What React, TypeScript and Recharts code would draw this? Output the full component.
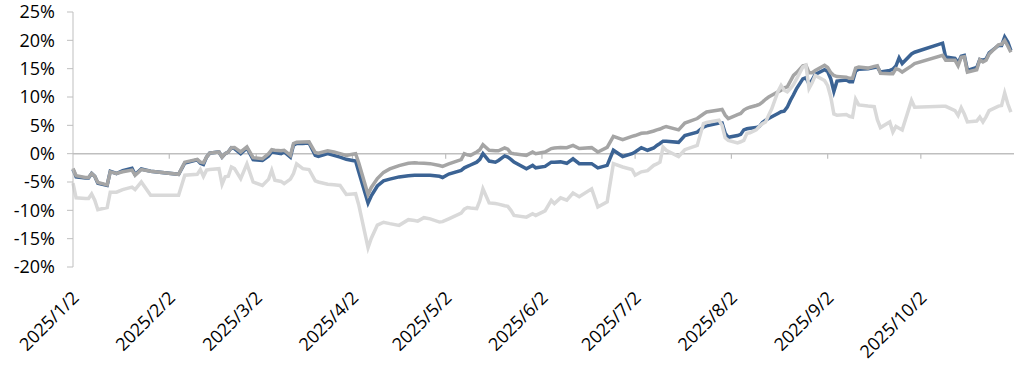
import { LineChart, Line, XAxis, YAxis, ReferenceLine } from "recharts";

// trading dates (2025)
const dates = [
  "1/2", "1/3", "1/6", "1/7", "1/8", "1/9", "1/10", "1/13", "1/14", "1/16",
  "1/18", "1/21", "1/22", "1/24", "1/27", "2/5", "2/7", "2/11", "2/12", "2/13",
  "2/14", "2/15", "2/18", "2/19", "2/20", "2/21", "2/22", "2/23", "2/25", "2/27",
  "3/1", "3/4", "3/6", "3/7", "3/8", "3/10", "3/11", "3/13", "3/14", "3/15",
  "3/17", "3/19", "3/21", "3/22", "3/25", "3/27", "3/29", "3/31", "4/2", "4/3",
  "4/4", "4/7", "4/8", "4/10", "4/12", "4/14", "4/17", "4/20", "4/22", "4/23",
  "4/25", "4/27", "4/30", "5/1", "5/3", "5/7", "5/8", "5/9", "5/10", "5/12",
  "5/13", "5/14", "5/16", "5/18", "5/19", "5/21", "5/22", "5/23", "5/24", "5/28",
  "5/30", "5/31", "6/3", "6/5", "6/6", "6/8", "6/10", "6/12", "6/14", "6/18",
  "6/20", "6/23", "6/25", "6/28", "7/1", "7/2", "7/4", "7/6", "7/8", "7/9",
  "7/10", "7/11", "7/12", "7/16", "7/18", "7/22", "7/24", "7/25", "7/29", "7/30",
  "7/31", "8/1", "8/4", "8/5", "8/6", "8/7", "8/8", "8/10", "8/11", "8/12",
  "8/13", "8/14", "8/15", "8/17", "8/18", "8/19", "8/20", "8/21", "8/22", "8/23",
  "8/25", "8/26", "8/27", "8/28", "8/29", "9/1", "9/2", "9/3", "9/4", "9/5",
  "9/8", "9/9", "9/10", "9/11", "9/12", "9/15", "9/17", "9/18", "9/19", "9/22",
  "9/23", "9/24", "9/25", "9/26", "9/29", "9/30", "10/9", "10/10", "10/13", "10/14",
  "10/15", "10/16", "10/17", "10/20", "10/21", "10/22", "10/23", "10/24", "10/27", "10/28",
  "10/29", "10/30", "10/31",
];

// dark blue series (%)
const seriesA = [
  -2.8, -4.1, -4.3, -4.3, -3.5, -4.0, -5.2, -5.6, -3.1, -3.5,
  -3.0, -2.6, -3.7, -2.7, -3.1, -3.65, -1.65, -1.1, -1.7, -1.9,
  -0.6, 0.1, 0.3, -0.6, 0.0, 0.3, 1.05, 0.9, 0.0, 1.0,
  -1.06, -1.2, -0.4, 0.3, 0.2, 0.0, 0.3, -0.6, 1.5, 1.8,
  1.8, 1.87, -0.3, -0.5, 0.0, -0.3, -0.6, -1.0, -1.2, -1.3,
  -3.2, -8.7, -7.5, -5.7, -4.8, -4.5, -4.1, -3.9, -3.8, -3.8,
  -3.8, -3.8, -4.0, -4.2, -3.6, -2.95, -2.5, -2.25, -2.0, -1.5,
  -1.0, 0.0, -1.3, -1.5, -1.2, -0.4, -0.6, -1.0, -1.5, -2.65,
  -2.06, -2.5, -2.25, -1.5, -1.5, -1.45, -1.7, -0.9, -1.76, -1.76,
  -2.5, -2.06, 0.6, -0.5, 0.0, 0.3, 1.06, 0.6, 1.0, 1.46,
  1.8, 2.2, 2.2, 2.0, 3.2, 3.8, 4.7, 4.9, 5.4, 5.4,
  3.6, 2.9, 3.2, 3.4, 4.2, 4.4, 4.5, 4.6, 4.8, 5.5,
  5.9, 6.2, 6.5, 7.1, 7.4, 7.5, 8.2, 9.4, 10.4, 11.5,
  13.2, 13.4, 12.3, 13.0, 14.0, 14.8, 14.5, 13.2, 11.0, 12.8,
  13.0, 12.7, 12.7, 14.6, 14.9, 15.0, 15.2, 15.3, 14.4, 14.7,
  14.9, 15.5, 16.9, 15.9, 17.6, 17.9, 19.5, 17.05, 16.8, 16.0,
  17.2, 17.35, 14.7, 15.2, 16.6, 16.5, 16.7, 17.8, 19.1, 19.1,
  20.6, 19.7, 18.2,
];

// mid grey series (%)
const seriesB = [
  -2.6, -3.9, -4.2, -4.2, -3.5, -4.0, -5.1, -5.5, -3.2, -3.5,
  -3.2, -2.9, -3.8, -2.8, -3.1, -3.65, -1.5, -1.0, -1.5, -1.6,
  -0.6, 0.1, 0.3, -0.6, 0.0, 0.3, 1.05, 1.1, 0.3, 1.2,
  -0.7, -0.9, 0.0, 0.7, 0.6, 0.5, 0.6, -0.3, 1.8, 2.0,
  2.05, 2.1, 0.2, 0.1, 0.5, 0.3, 0.0, -0.3, -0.1, 0.0,
  -1.6, -7.2, -6.0, -4.4, -3.3, -2.7, -2.1, -1.7, -1.6, -1.65,
  -1.7, -1.76, -2.1, -2.25, -1.8, -1.06, 0.0, -0.2, -0.3, 0.3,
  0.7, 1.6, 0.6, 0.5, 0.5, 1.0, 0.8, 0.1, 0.0, -0.3,
  0.3, 0.0, 0.3, 0.9, 1.0, 1.1, 1.06, 1.46, 0.9, 1.06,
  0.3, 1.1, 3.05, 2.47, 3.05, 3.2, 3.6, 3.7, 4.0, 4.2,
  4.35, 4.6, 4.8, 4.2, 5.4, 6.2, 7.0, 7.35, 7.7, 7.8,
  6.8, 6.2, 6.9, 7.1, 7.7, 8.0, 8.2, 8.5, 8.7, 9.1,
  9.6, 10.0, 10.3, 10.9, 11.2, 11.6, 11.8, 12.8, 13.8, 14.3,
  15.5, 15.6, 14.3, 14.3, 14.7, 15.6, 15.2, 14.3, 13.8, 13.6,
  13.5, 13.3, 13.3, 15.1, 15.3, 15.1, 15.4, 15.5, 14.2, 14.1,
  14.1, 15.0, 14.8, 14.4, 15.5, 15.9, 17.35, 16.5, 16.5, 15.5,
  17.0, 17.1, 14.4, 14.8, 16.6, 16.2, 16.5, 17.6, 19.2, 19.3,
  20.0, 19.0, 17.9,
];

// light grey series (%)
const seriesC = [
  -5.2, -7.8, -7.9, -7.9, -7.1, -8.2, -9.9, -9.5, -6.8, -6.8,
  -6.35, -5.9, -6.35, -5.0, -7.35, -7.35, -3.8, -3.65, -2.8, -4.0,
  -2.9, -2.8, -2.65, -5.4, -4.1, -4.0, -2.35, -2.65, -4.4, -1.8,
  -5.0, -5.6, -4.5, -2.95, -4.7, -4.9, -5.3, -4.5, -3.5, -1.8,
  -2.65, -2.8, -4.8, -5.0, -5.4, -5.5, -5.6, -7.2, -7.1, -7.06,
  -9.0, -16.6, -15.0, -12.6, -12.1, -12.35, -12.65, -11.65, -11.8, -11.9,
  -11.3, -11.5, -12.07, -12.0, -11.5, -10.5, -9.8, -9.5, -9.6, -9.7,
  -8.3, -6.2, -8.7, -8.8, -8.9, -9.2, -9.3, -10.0, -10.9, -11.2,
  -10.6, -10.9, -10.1, -8.25, -8.8, -7.8, -8.2, -6.95, -7.6, -6.2,
  -9.4, -8.5, -1.76, -2.35, -2.8, -3.8, -3.2, -3.0, -2.06, -1.8,
  -1.5, 1.17, 0.6, -0.5, 0.7, 1.46, 5.3, 5.5, 5.9, 5.0,
  2.8, 2.35, 1.9, 2.1, 2.35, 3.6, 3.7, 4.2, 4.8, 5.3,
  5.6, 6.8, 7.9, 11.0, 12.05, 11.2, 10.9, 11.5, 12.2, 13.2,
  15.3, 15.6, 11.5, 12.5, 13.8, 12.9, 12.0, 10.0, 7.0, 6.8,
  6.9, 6.6, 6.45, 9.6, 8.6, 8.4, 8.3, 6.0, 4.6, 5.6,
  3.8, 4.8, 4.5, 4.2, 9.4, 8.2, 8.35, 8.35, 7.6, 6.75,
  8.1, 7.0, 5.6, 5.75, 6.45, 5.6, 6.5, 7.6, 8.4, 8.5,
  10.7, 8.8, 7.35,
];

const tickLabels = [
  "2025/1/2", "2025/2/2", "2025/3/2", "2025/4/2", "2025/5/2",
  "2025/6/2", "2025/7/2", "2025/8/2", "2025/9/2", "2025/10/2",
];
const yTicks = [-20, -15, -10, -5, 0, 5, 10, 15, 20, 25];

const toTime = (s: string) => {
  const [y, m, d] = s.split("/").map(Number);
  return Date.UTC(y, m - 1, d);
};

const fmtDate = (t: number) => {
  const dt = new Date(t);
  return `${dt.getUTCFullYear()}/${dt.getUTCMonth() + 1}/${dt.getUTCDate()}`;
};

const data = dates.map((d, i) => ({
  t: toTime("2025/" + d),
  a: seriesA[i],
  b: seriesB[i],
  c: seriesC[i],
}));

const xTicks = tickLabels.map(toTime);
const xDomain = [toTime("2025/1/2"), toTime("2025/11/1")];

const FONT = "'Open Sans', sans-serif";

function DateTick(props: any) {
  const { x, y, payload } = props;
  const px = x + 7;
  const py = y + 32;
  return (
    <text
      x={px}
      y={py}
      textAnchor="end"
      fontSize={18}
      fill="#000"
      fontFamily={FONT}
      transform={`rotate(-45 ${px} ${py})`}
    >
      {fmtDate(payload.value)}
    </text>
  );
}

export default function App() {
  return (
    <div style={{ position: "absolute", left: 0, top: 0, background: "#fff" }}>
      <LineChart
        width={1024}
        height={386}
        data={data}
        margin={{ top: 12, right: 10, bottom: 0, left: 0 }}
        style={{ fontFamily: FONT }}
      >
        <XAxis
          dataKey="t"
          type="number"
          domain={xDomain}
          ticks={xTicks}
          interval={0}
          tick={<DateTick />}
          axisLine={false}
          tickLine={false}
          tickSize={0}
          tickMargin={0}
          height={119}
        />
        <YAxis
          domain={[-20, 25]}
          ticks={yTicks}
          interval={0}
          width={73}
          tickFormatter={(v) => `${v}%`}
          tick={{ fontSize: 18, fill: "#000", fontFamily: FONT }}
          axisLine={{ stroke: "#bfbfbf" }}
          tickLine={{ stroke: "#bfbfbf" }}
          tickSize={6}
          tickMargin={12}
        />
        <ReferenceLine y={0} stroke="#bfbfbf" strokeWidth={1.5} />
        {xTicks.slice(1).map((t) => (
          <ReferenceLine
            key={t}
            segment={[
              { x: t, y: 0 },
              { x: t, y: -0.9 },
            ]}
            stroke="#bfbfbf"
            strokeWidth={1.2}
          />
        ))}
        <Line
          type="linear"
          dataKey="a"
          stroke="#3b6394"
          strokeWidth={3.5}
          dot={false}
          isAnimationActive={false}
        />
        <Line
          type="linear"
          dataKey="b"
          stroke="#a5a5a5"
          strokeWidth={3.5}
          dot={false}
          isAnimationActive={false}
        />
        <Line
          type="linear"
          dataKey="c"
          stroke="#d9d9d9"
          strokeWidth={3.5}
          dot={false}
          isAnimationActive={false}
        />
      </LineChart>
    </div>
  );
}
